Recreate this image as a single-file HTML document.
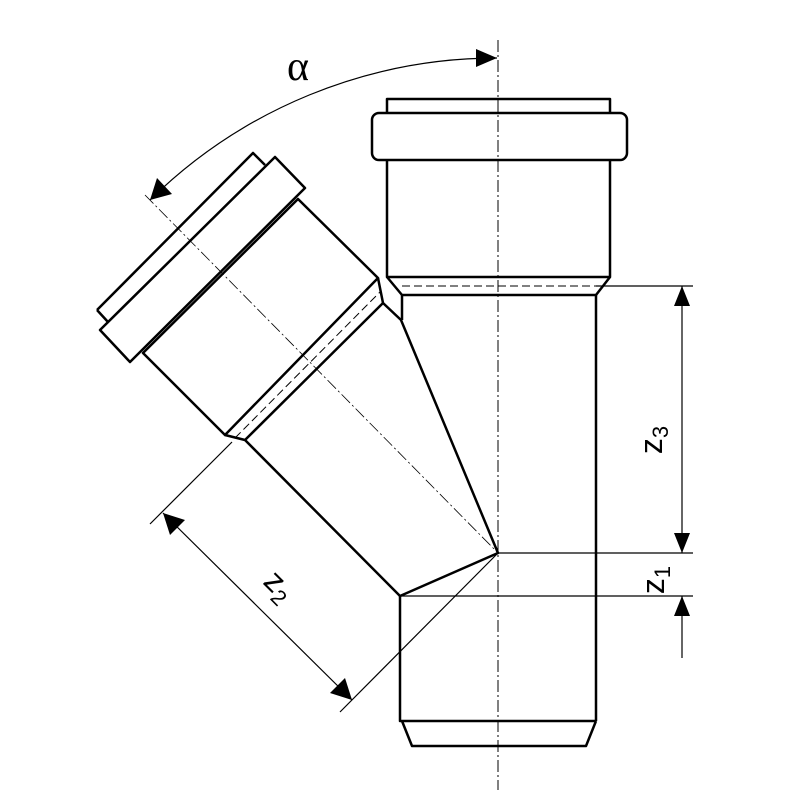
<!DOCTYPE html>
<html><head><meta charset="utf-8"><style>html,body{margin:0;padding:0;background:#fff}svg{display:block}</style></head>
<body>
<svg width="800" height="800" viewBox="0 0 800 800" xmlns="http://www.w3.org/2000/svg">
<g fill="none" stroke="#000" stroke-linejoin="round">
<line x1="498" y1="40" x2="498" y2="790" stroke-width="1" stroke-dasharray="12,3,2,3"/>
<line x1="145" y1="195" x2="498" y2="553" stroke-width="0.8" stroke-dasharray="12,3,2,3"/>
<g stroke-width="2.5">
<path d="M387 113 V99 H610 V113"/>
<rect x="372" y="113" width="255" height="47" rx="7"/>
<path d="M387 160 V277 H610 V160"/>
<path d="M387 277 L402 295 H596 L610 277"/>
<path d="M402 295 V320 M596 295 V721"/>
<path d="M400 596 V721 H596 M402 721 L412 746 H586 L596 721"/>
<path d="M97 310 L253 153 L265 165 M108 322 L97 310"/>
<path d="M100 330 L275 157 L305 188 L130 362 Z"/>
<path d="M143 353 L298 199 L378 278 L225 435 Z"/>
<path d="M378 278 L383 303 L401 320 L498 553 L400 596 L245 440 L225 435"/>
<path d="M245 440 L383 303"/>
</g>
<path d="M235 438 L380 292" stroke-width="1" stroke-dasharray="8,4"/>
<line x1="402" y1="286" x2="596" y2="286" stroke-width="1" stroke-dasharray="8,4"/>
<g stroke-width="1.2">
<line x1="596" y1="286" x2="693" y2="286"/>
<line x1="498" y1="553" x2="693" y2="553"/>
<line x1="400" y1="596" x2="693" y2="596"/>
<line x1="682" y1="286" x2="682" y2="553"/>
<line x1="682" y1="596" x2="682" y2="658"/>
<line x1="150" y1="524" x2="232" y2="442"/>
<line x1="340" y1="712" x2="498" y2="553"/>
<line x1="163" y1="513" x2="352" y2="700"/>
<path d="M497 58 A495 495 0 0 0 150 200"/>
</g>
</g>
<g fill="#000">
<polygon points="682,286 674,306 690,306"/>
<polygon points="682,553 674,533 690,533"/>
<polygon points="682,596 674,616 690,616"/>
<polygon points="163,513 185,520 170,535"/>
<polygon points="352,700 330,693 345,678"/>
<polygon points="497,58 476,49 476,67"/>
<polygon points="150,200 157,178 172,194"/>
</g>
<g font-family="'Liberation Sans', sans-serif" fill="#000">
<text x="298" y="80" font-family="'Liberation Serif', serif" font-size="42" text-anchor="middle">α</text>
<text transform="translate(662,440) rotate(-90)" font-size="32" text-anchor="middle">z<tspan font-size="22" dy="6">3</tspan></text>
<text transform="translate(664,580) rotate(-90)" font-size="32" text-anchor="middle">z<tspan font-size="22" dy="6">1</tspan></text>
<text transform="translate(272,593) rotate(45)" font-size="32" text-anchor="middle">z<tspan font-size="22" dy="6">2</tspan></text>
</g>
</svg>
</body></html>
